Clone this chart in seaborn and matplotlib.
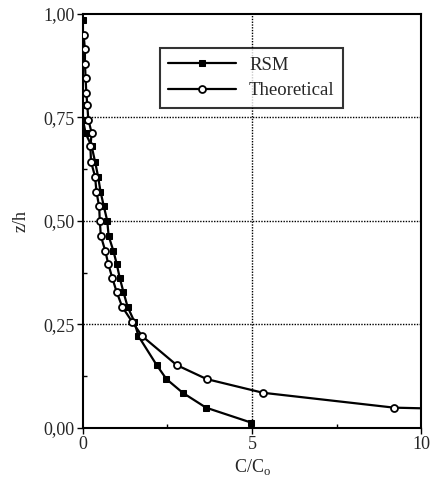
import matplotlib
matplotlib.use("Agg")
import matplotlib.pyplot as plt
import seaborn as sns
import pandas as pd
from matplotlib.ticker import MultipleLocator, FuncFormatter

# data
z_rsm = [0.985, 0.95, 0.915, 0.88, 0.845, 0.81, 0.78, 0.745, 0.712, 0.68, 0.643,
         0.607, 0.571, 0.535, 0.50, 0.464, 0.428, 0.396, 0.362, 0.328, 0.293,
         0.257, 0.222, 0.152, 0.118, 0.085, 0.049, 0.013]
c_rsm = [0.0, 0.0, 0.0, 0.0, 0.0, 0.0, 0.0, 0.0, 0.08, 0.26, 0.36,
         0.45, 0.52, 0.62, 0.72, 0.76, 0.9, 1.0, 1.09, 1.2, 1.32,
         1.52, 1.64, 2.18, 2.47, 2.95, 3.64, 4.97]
z_th = [0.95, 0.915, 0.88, 0.845, 0.81, 0.78, 0.745, 0.712, 0.68, 0.643,
        0.607, 0.571, 0.535, 0.50, 0.464, 0.428, 0.396, 0.362, 0.328, 0.293,
        0.257, 0.222, 0.152, 0.118, 0.085, 0.049, 0.013]
c_th = [0.02, 0.06, 0.06, 0.08, 0.1, 0.13, 0.16, 0.26, 0.22, 0.24,
        0.36, 0.4, 0.48, 0.5, 0.53, 0.66, 0.75, 0.87, 1.0, 1.16,
        1.45, 1.75, 2.77, 3.66, 5.32, 9.2, 28.0]
labels = ["RSM", "Theoretical"]
xticks = [0, 5, 10]
yticks = [0.0, 0.25, 0.5, 0.75, 1.0]

sns.set_style("white")
plt.rcParams["font.family"] = ["Liberation Serif", "DejaVu Serif"]
plt.rcParams["mathtext.fontset"] = "custom"
plt.rcParams["mathtext.rm"] = "Liberation Serif"

fig = plt.figure(figsize=(4.41, 4.83), dpi=100)
ax = fig.add_axes([0.188, 0.114, 0.767, 0.857])

df_r = pd.DataFrame({"C": c_rsm, "z": z_rsm})
df_t = pd.DataFrame({"C": c_th, "z": z_th})

sns.lineplot(data=df_r, x="C", y="z", sort=False, estimator=None, ax=ax,
             color="black", lw=1.6, marker="s", markersize=4.5,
             markerfacecolor="black", markeredgecolor="black", label=labels[0], zorder=3)
sns.lineplot(data=df_t, x="C", y="z", sort=False, estimator=None, ax=ax,
             color="black", lw=1.6, marker="o", markersize=5,
             markerfacecolor="white", markeredgecolor="black", markeredgewidth=1.3,
             label=labels[1], zorder=4)

ax.set_xlim(0, 10)
ax.set_ylim(0, 1)
ax.set_xticks(xticks)
ax.set_yticks(yticks)
ax.xaxis.set_minor_locator(MultipleLocator(2.5))
ax.yaxis.set_minor_locator(MultipleLocator(0.125))
ax.yaxis.set_major_formatter(FuncFormatter(lambda v, p: f"{v:.2f}".replace(".", ",")))
ax.xaxis.set_major_formatter(FuncFormatter(lambda v, p: f"{v:g}"))
ax.tick_params(axis="both", which="major", direction="out", length=4, width=1,
               labelsize=13, color="black", pad=2)
ax.tick_params(axis="both", which="minor", direction="in", length=3, width=1, color="black")
ax.tick_params(left=True, bottom=True, which="both")

for y in [0.25, 0.5, 0.75]:
    ax.axhline(y, color="black", ls=(0, (1, 1)), lw=1.0, zorder=1)
ax.axvline(5, color="black", ls=(0, (1, 1)), lw=1.0, zorder=1)

for s in ax.spines.values():
    s.set_color("black")
    s.set_linewidth(1.5)

ax.set_xlabel(r"C/C$_\mathrm{o}$", fontsize=13, labelpad=3)
ax.set_ylabel("z/h", fontsize=13, labelpad=10)

leg = ax.legend(loc="upper left", bbox_to_anchor=(0.2, 0.94), frameon=True,
                fancybox=False, edgecolor="black", fontsize=13.5, handlelength=3.6,
                borderpad=0.45, labelspacing=0.45, handletextpad=0.7)
leg.get_frame().set_linewidth(1.5)

fig.savefig("out.png", dpi=100)
